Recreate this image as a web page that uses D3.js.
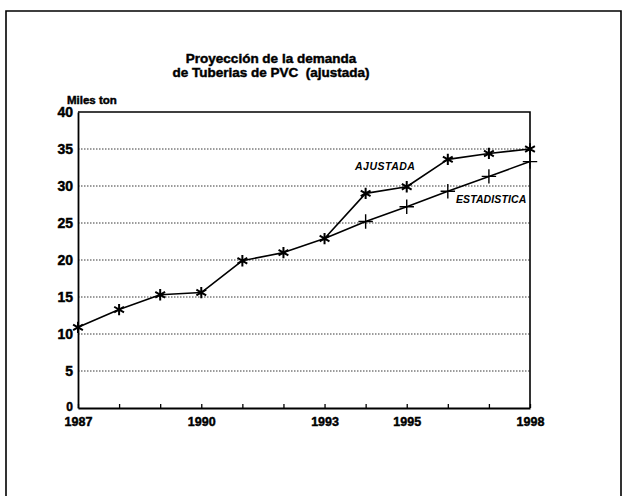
<!DOCTYPE html>
<html>
<head>
<meta charset="utf-8">
<script src="https://cdn.jsdelivr.net/npm/d3@7"></script>
<style>
  html, body { margin: 0; padding: 0; background: #fff; }
  svg { display: block; }
  text { font-family: "Liberation Sans", Arial, sans-serif; fill: #000; }
  .heavy { stroke: #000; stroke-width: 0.45px; }
</style>
</head>
<body>
<svg id="chart" width="623" height="496"></svg>
<script>
// Demanda de tuberías de PVC (miles de toneladas)
const years = [1987, 1988, 1989, 1990, 1991, 1992, 1993, 1994, 1995, 1996, 1997, 1998];
const histYears = [1987, 1988, 1989, 1990, 1991, 1992, 1993];
const histValues = [10.9, 13.3, 15.3, 15.6, 19.9, 21.0, 22.9];
const projYears = [1993, 1994, 1995, 1996, 1997, 1998];
const ajustadaValues = [22.9, 29.0, 29.9, 33.6, 34.4, 35.0];
const estadisticaValues = [22.9, 25.2, 27.2, 29.3, 31.3, 33.3];
const xTickLabels = [1987, 1990, 1993, 1995, 1998];
const yTicks = [0, 5, 10, 15, 20, 25, 30, 35, 40];
const titleLines = ["Proyección de la demanda", "de Tuberias de PVC  (ajustada)"];
const yUnit = "Miles ton";
const seriesNames = ["AJUSTADA", "ESTADISTICA"];

const svg = d3.select("#chart");

// outer frame
svg.append("path")
  .attr("d", "M6,500 L6,11 L621,11 L621,500")
  .attr("fill", "none").attr("stroke", "#000").attr("stroke-width", 1.6);

const x = d3.scaleLinear().domain([1987, 1998]).range([78, 530]);
const y = d3.scaleLinear().domain([0, 40]).range([408, 112]);

// title
titleLines.forEach((t, i) => {
  svg.append("text").attr("x", 271).attr("y", 63 + i * 14).attr("text-anchor", "middle")
    .attr("class", "heavy").attr("xml:space", "preserve").style("white-space", "pre")
    .attr("font-size", 13.5).attr("font-weight", "bold").text(t);
});

svg.append("text").attr("x", 67).attr("y", 103.5).attr("class", "heavy")
  .attr("font-size", 11.5).attr("font-weight", "bold").text(yUnit);

// dotted grid lines
svg.append("g").selectAll("line")
  .data(yTicks.filter(d => d > 0 && d < 40))
  .join("line")
  .attr("x1", x(1987)).attr("x2", x(1998))
  .attr("y1", d => y(d)).attr("y2", d => y(d))
  .attr("stroke", "#222").attr("stroke-width", 0.9)
  .attr("stroke-dasharray", "1.5,1.5");

// plot box: top and right borders
svg.append("path")
  .attr("d", `M${x(1987)},${y(40)} L${x(1998)},${y(40)} L${x(1998)},${y(0)}`)
  .attr("fill", "none").attr("stroke", "#000").attr("stroke-width", 1.6);

// y axis
const yAxis = svg.append("g").attr("transform", `translate(${x(1987)},0)`)
  .call(d3.axisLeft(y).tickValues(yTicks).tickSize(0).tickPadding(5));
yAxis.select(".domain").attr("stroke-width", 1.8);
yAxis.selectAll("text").attr("font-size", 14).attr("font-weight", "bold")
  .attr("class", "heavy")
  .attr("font-family", "Liberation Sans, Arial, sans-serif");
yAxis.selectAll(".tick").filter(d => d === 0).select("text").attr("font-size", 12).attr("dy", "0.2em");

// x axis with upward ticks
const xAxis = svg.append("g").attr("transform", `translate(0,${y(0)})`)
  .call(d3.axisBottom(x).tickValues(years).tickSizeInner(-4).tickSizeOuter(0)
    .tickFormat(d => xTickLabels.includes(d) ? d : ""));
xAxis.select(".domain").attr("stroke-width", 1.8);
xAxis.selectAll(".tick line").attr("stroke-width", 1.3);
xAxis.selectAll("text").attr("font-size", 12.5).attr("font-weight", "bold")
  .attr("class", "heavy")
  .attr("font-family", "Liberation Sans, Arial, sans-serif")
  .attr("dy", "0.2em").attr("y", 15);

const line = d3.line().x(d => x(d[0])).y(d => y(d[1]));
const hist = histYears.map((t, i) => [t, histValues[i]]);
const ajus = projYears.map((t, i) => [t, ajustadaValues[i]]);
const esta = projYears.map((t, i) => [t, estadisticaValues[i]]);

[hist, ajus, esta].forEach(s => {
  svg.append("path").attr("d", line(s)).attr("fill", "none")
    .attr("stroke", "#000").attr("stroke-width", 1.6).attr("stroke-linejoin", "round");
});

const star = d3.symbol().type(d3.symbolAsterisk).size(90);
const plus = d3.symbol().type(d3.symbolPlus).size(70);

svg.append("g").selectAll("path")
  .data(hist.concat(ajus.slice(1)))
  .join("path")
  .attr("transform", d => `translate(${x(d[0])},${y(d[1])})`)
  .attr("d", star).attr("fill", "none").attr("stroke", "#000").attr("stroke-width", 2);

svg.append("g").selectAll("path")
  .data(esta.slice(1))
  .join("path")
  .attr("transform", d => `translate(${x(d[0])},${y(d[1])})`)
  .attr("d", plus).attr("fill", "none").attr("stroke", "#000").attr("stroke-width", 1.4);

// series labels
svg.append("text").attr("x", 355).attr("y", 170)
  .attr("font-size", 10.5).attr("font-weight", "bold").attr("font-style", "italic")
  .attr("letter-spacing", 0.5).text(seriesNames[0]);
svg.append("text").attr("x", 456).attr("y", 203)
  .attr("font-size", 10.5).attr("font-weight", "bold").attr("font-style", "italic")
  .attr("letter-spacing", 0.1).text(seriesNames[1]);
</script>
</body>
</html>
